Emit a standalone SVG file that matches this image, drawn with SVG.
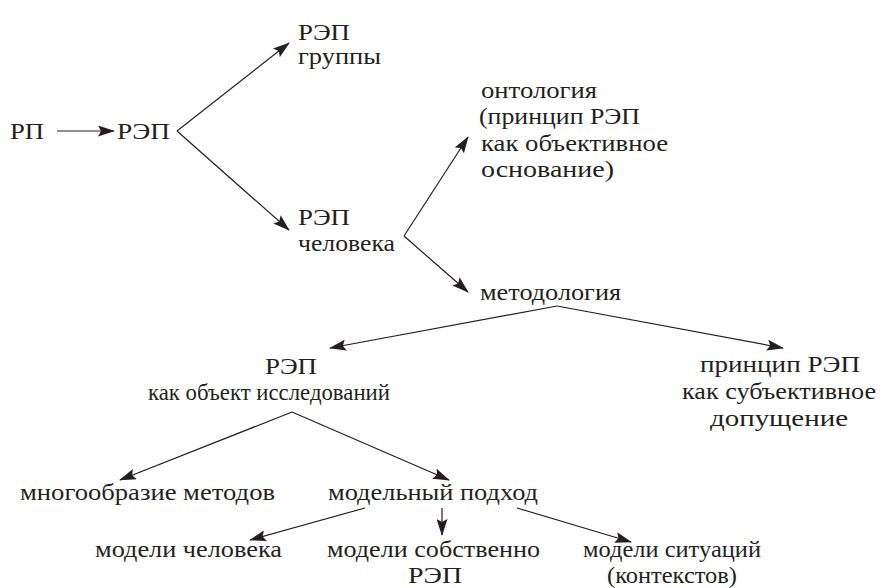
<svg xmlns="http://www.w3.org/2000/svg" width="884" height="588" viewBox="0 0 884 588">
<defs>
<style>
text{font-family:"Liberation Serif","Liberation Sans",Arial,sans-serif;font-size:24px;fill:#231f20}
.c line{stroke:#231f20;stroke-width:1.2;fill:none}
</style>
<marker id="ah" markerUnits="userSpaceOnUse" markerWidth="17" markerHeight="11" refX="16" refY="5.5" orient="auto" viewBox="0 0 17 11">
<path d="M0,0 L17,5.5 L0,11 L3,5.5 Z" fill="#231f20"/>
</marker>
</defs>
<rect width="884" height="588" fill="#fff"/>
<g id="n-rp"><text x="10" y="139" textLength="34" lengthAdjust="spacingAndGlyphs">РП</text></g>
<g id="n-rep"><text x="117" y="139" textLength="53" lengthAdjust="spacingAndGlyphs">РЭП</text></g>
<g id="n-rep-group"><text x="298" y="40" textLength="52" lengthAdjust="spacingAndGlyphs">РЭП</text><text x="298" y="64" textLength="83" lengthAdjust="spacingAndGlyphs">группы</text></g>
<g id="n-rep-human"><text x="298" y="225" textLength="52" lengthAdjust="spacingAndGlyphs">РЭП</text><text x="298" y="251" textLength="97" lengthAdjust="spacingAndGlyphs">человека</text></g>
<g id="n-ontology">
<text x="481" y="98" textLength="116" lengthAdjust="spacingAndGlyphs">онтология</text>
<text x="479" y="124" textLength="161" lengthAdjust="spacingAndGlyphs">(принцип РЭП</text>
<text x="481" y="151" textLength="187" lengthAdjust="spacingAndGlyphs">как объективное</text>
<text x="481" y="177" textLength="133" lengthAdjust="spacingAndGlyphs">основание)</text>
</g>
<g id="n-methodology"><text x="480" y="300" textLength="141" lengthAdjust="spacingAndGlyphs">методология</text></g>
<g id="n-object"><text x="265" y="374" textLength="52" lengthAdjust="spacingAndGlyphs">РЭП</text><text x="148" y="400" textLength="242" lengthAdjust="spacingAndGlyphs">как объект исследований</text></g>
<g id="n-subjective">
<text x="700" y="372" textLength="160" lengthAdjust="spacingAndGlyphs">принцип РЭП</text>
<text x="682" y="399" textLength="194" lengthAdjust="spacingAndGlyphs">как субъективное</text>
<text x="710" y="426" textLength="138" lengthAdjust="spacingAndGlyphs">допущение</text>
</g>
<g id="n-variety"><text x="20" y="500" textLength="255" lengthAdjust="spacingAndGlyphs">многообразие методов</text></g>
<g id="n-model"><text x="328" y="500" textLength="210" lengthAdjust="spacingAndGlyphs">модельный подход</text></g>
<g id="n-m-human"><text x="95" y="557" textLength="187" lengthAdjust="spacingAndGlyphs">модели человека</text></g>
<g id="n-m-rep"><text x="327" y="557" textLength="213" lengthAdjust="spacingAndGlyphs">модели собственно</text><text x="408" y="583" textLength="54" lengthAdjust="spacingAndGlyphs">РЭП</text></g>
<g id="n-m-sit"><text x="583" y="557" textLength="178" lengthAdjust="spacingAndGlyphs">модели ситуаций</text><text x="607" y="583" textLength="130" lengthAdjust="spacingAndGlyphs">(контекстов)</text></g>
<g id="connectors" class="c">
<line x1="57" y1="131" x2="114" y2="131" marker-end="url(#ah)"/>
<line x1="177" y1="131" x2="289" y2="43" marker-end="url(#ah)"/>
<line x1="177" y1="131" x2="289" y2="230" marker-end="url(#ah)"/>
<line x1="404" y1="236" x2="468" y2="137" marker-end="url(#ah)"/>
<line x1="404" y1="236" x2="468" y2="292" marker-end="url(#ah)"/>
<line x1="557" y1="306" x2="330" y2="348" marker-end="url(#ah)"/>
<line x1="557" y1="306" x2="783" y2="348" marker-end="url(#ah)"/>
<line x1="292" y1="412" x2="120" y2="480" marker-end="url(#ah)"/>
<line x1="292" y1="412" x2="449" y2="480" marker-end="url(#ah)"/>
<line x1="365" y1="508" x2="250" y2="540" marker-end="url(#ah)"/>
<line x1="442" y1="508" x2="442" y2="535" marker-end="url(#ah)"/>
<line x1="517" y1="508" x2="631" y2="542" marker-end="url(#ah)"/>
</g>
</svg>
